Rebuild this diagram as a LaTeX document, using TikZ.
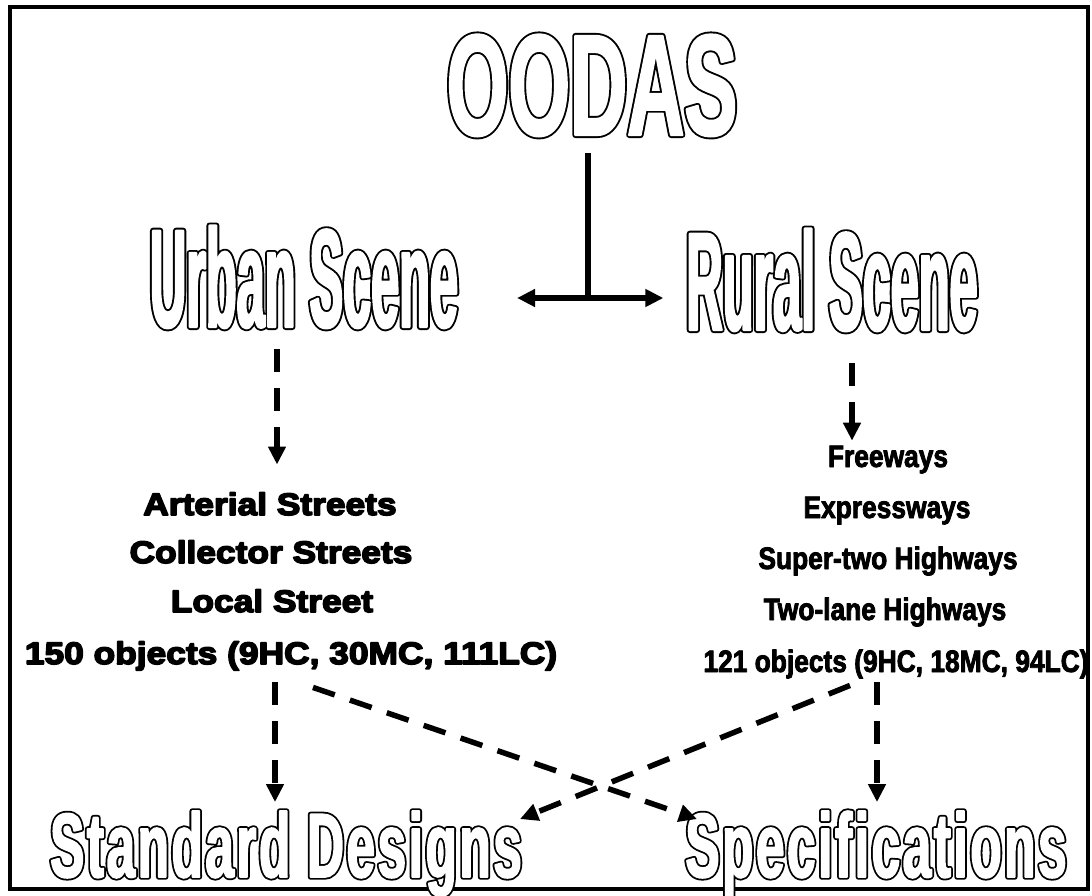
\documentclass[tikz,border=0pt]{standalone}
\usepackage{fontspec}
\setmainfont{Liberation Sans}
\newfontfamily\headfont{Liberation Sans}[FakeStretch=0.55]
\newfontfamily\scenefont{Liberation Sans}[FakeStretch=0.36]
\newfontfamily\resultfont{Liberation Sans}[FakeStretch=0.56, LetterSpace=3]
\newfontfamily\urbanfont{Liberation Sans}[FakeStretch=1.14]
\newfontfamily\ruralfont{Liberation Sans}[FakeStretch=0.85]
\usetikzlibrary{arrows.meta}
\newcommand{\hollow}[3]{\rlap{\special{pdf:code 1 Tr #1 w 1 j}#3\special{pdf:code 0 Tr}}{\color{white}\special{pdf:code 2 Tr #2 w 1 j}#3\special{pdf:code 0 Tr}}}
\newcommand{\heavy}[2]{\special{pdf:code 2 Tr #1 w 1 j}#2\special{pdf:code 0 Tr}}

\begin{document}
\begin{tikzpicture}[x=1pt, y=-1pt]

	\tikzstyle{head_text} = [inner sep=0pt, outer sep=0pt, anchor=base, font=\headfont\bfseries\fontsize{144}{144}\selectfont]
	\tikzstyle{scene_text} = [inner sep=0pt, outer sep=0pt, anchor=base, font=\scenefont\bfseries\fontsize{140}{140}\selectfont]
	\tikzstyle{result_text} = [inner sep=0pt, outer sep=0pt, anchor=base, font=\resultfont\bfseries\fontsize{91}{91}\selectfont]
	\tikzstyle{urban_item} = [inner sep=0pt, outer sep=0pt, anchor=base, font=\urbanfont\bfseries\fontsize{31}{31}\selectfont]
	\tikzstyle{rural_item} = [inner sep=0pt, outer sep=0pt, anchor=base, font=\ruralfont\bfseries\fontsize{31}{31}\selectfont]
	\tikzstyle{solid_link} = [line width=6pt]
	\tikzstyle{dash_link} = [line width=5.5pt, dash pattern=on 23pt off 16pt, -{Triangle[length=18pt, width=17pt]}]

	\useasboundingbox (0,0) rectangle (1092,896);
	\fill[white] (0,0) rectangle (1092,896);
	\draw[line width=4pt] (10,7) rectangle (1088,889);

%------------------------------------------------------------
	\node[head_text] (oodas) at (592,135) {\hollow{6}{2.2}{OODAS}};

	\node[scene_text] (urban) at (304,327) {\hollow{6}{2.2}{Urban Scene}};
	\node[scene_text] (rural) at (832,330) {\hollow{6}{2.2}{Rural Scene}};

	\coordinate (hub) at (588,298);

	\draw[solid_link, shorten <=17pt] (oodas.south -| hub) -- (hub);
	\draw[solid_link, {Triangle[length=18pt, width=17pt]}-{Triangle[length=18pt, width=17pt]}, shorten <=59pt, shorten >=23pt] (urban.east |- hub) -- (rural.west |- hub);
%------------------------------------------------------------
	\node[urban_item] (art) at (270,515) {\heavy{1.6}{Arterial Streets}};
	\node[urban_item] (coll) at (271,563) {\heavy{1.6}{Collector Streets}};
	\node[urban_item] (loc) at (272,612) {\heavy{1.6}{Local Street}};
	\node[urban_item] (uobj) at (291,664) {\heavy{1.6}{150 objects (9HC, 30MC, 111LC)}};

	\coordinate (u_out) at ([xshift=-27pt]urban.south);
	\draw[dash_link, shorten <=21pt, shorten >=28pt] (u_out) -- (u_out |- art.north);
%------------------------------------------------------------
	\node[rural_item] (fwy) at (888,467) {\heavy{0.8}{Freeways}};
	\node[rural_item] (exw) at (887,518) {\heavy{0.8}{Expressways}};
	\node[rural_item] (stw) at (888,569) {\heavy{0.8}{Super-two Highways}};
	\node[rural_item] (tlh) at (885,620) {\heavy{0.8}{Two-lane Highways}};
	\node[rural_item] (robj) at (896,672) {\heavy{0.8}{121 objects (9HC, 18MC, 94LC)}};

	\coordinate (r_out) at ([xshift=20pt]rural.south);
	\draw[dash_link, shorten <=32pt, shorten >=5pt] (r_out) -- (r_out |- fwy.north);
%------------------------------------------------------------
	\node[result_text] (std) at (286,877) {\hollow{5.4}{1.8}{Standard Designs}};
	\node[result_text] (spec) at (876,877) {\hollow{5.4}{1.8}{Specifications}};

	\coordinate (l_down) at ([xshift=-16pt]uobj.south);
	\coordinate (r_down) at ([xshift=-19pt]robj.south);

	\draw[dash_link, shorten <=12pt, shorten >=9pt] (l_down) -- (l_down |- std.north);
	\draw[dash_link, shorten <=4pt, shorten >=9pt] (r_down) -- (r_down |- spec.north);

	\draw[dash_link] ([shift={(22,17)}]uobj.south) -- ([shift={(-179,8)}]spec.north);
	\draw[dash_link] ([shift={(-46,7)}]robj.south) -- ([shift={(234,8)}]std.north);

\end{tikzpicture}
\end{document}
